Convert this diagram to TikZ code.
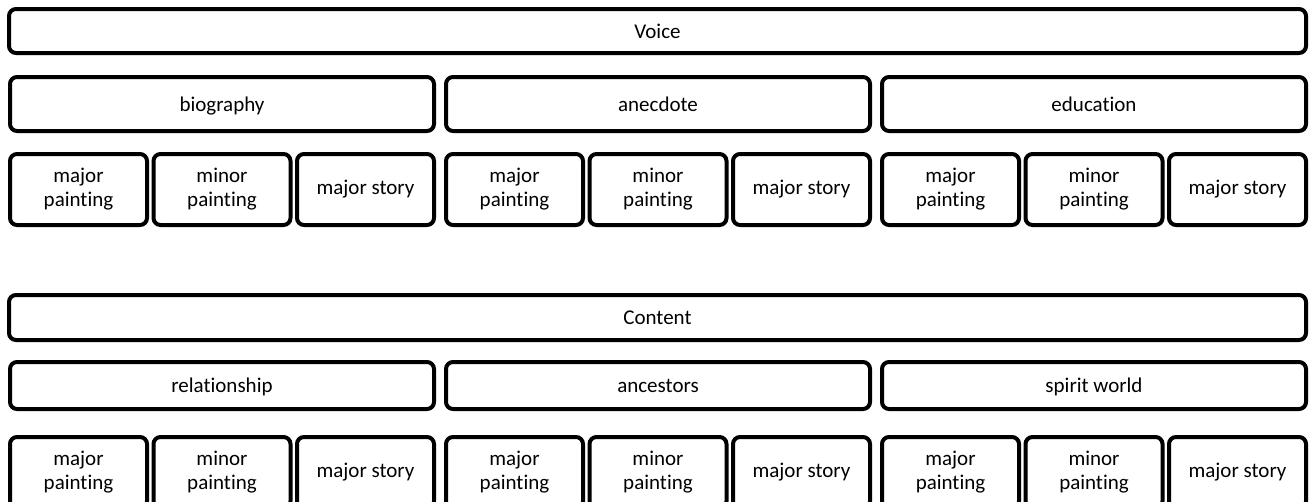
\documentclass[tikz,border=0pt]{standalone}
\usepackage{fontspec}
\setmainfont[Ligatures={NoCommon}]{Carlito}
\begin{document}
\begin{tikzpicture}[x=1pt,y=-1pt,
  box/.style={draw=black, line width=4pt, rounded corners=7pt, inner sep=0pt, align=center,
    font=\fontsize{21}{24}\selectfont, fill=white},
  single/.style={box, text height=15pt, text depth=1pt},
  wide/.style={single, minimum width=1297pt},
  mid/.style={single, minimum width=424pt},
  small/.style={box, minimum width=137pt, minimum height=71pt}]
\useasboundingbox[fill=white] (0,0) rectangle (1313,501);
% Voice section
\node[wide, minimum height=44pt] (voice) at (657.5,31) {Voice};
\node[mid, minimum height=54pt] (bio) at (222,104) {biography};
\node[mid, minimum height=54pt] (anec) at (658,104) {anecdote};
\node[mid, minimum height=54pt] (edu) at (1094,104) {education};
% Content section
\node[wide, minimum height=45pt] (content) at (657.5,317.5) {Content};
\node[mid, minimum height=47pt] (rel) at (222,385.5) {relationship};
\node[mid, minimum height=47pt] (anc) at (658,385.5) {ancestors};
\node[mid, minimum height=47pt] (spi) at (1094,385.5) {spirit world};
% small boxes
\foreach \g/\gx in {1/8,2/444,3/880}{
  \foreach \k/\t in {0/{major\\painting},1/{minor\\painting},2/{major story}}{
    \node[small] (va\g\k) at ({\gx+\k*143.5+70.5},189.5) {\t};
    \node[small] (cb\g\k) at ({\gx+\k*143.5+70.5},472.5) {\t};
  }
}
\end{tikzpicture}
\end{document}
